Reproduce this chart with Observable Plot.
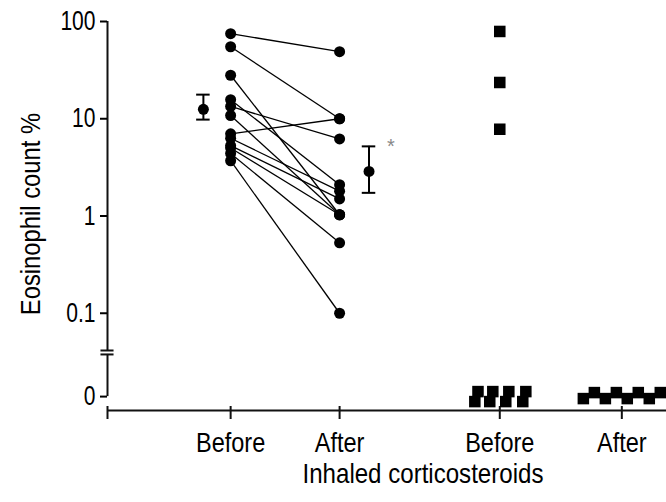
<!DOCTYPE html>
<html><head><meta charset="utf-8">
<script src="https://cdn.jsdelivr.net/npm/d3@7"></script>
<script src="https://cdn.jsdelivr.net/npm/@observablehq/plot@0.6"></script>
<style>
body{margin:0;background:#fff}
#chart svg{display:block}
</style>
</head><body><div id="chart"></div>
<script>
// ---- data ----
const xLabels = ["Before", "After", "Before", "After"];
const xPos = [1.13, 2.13, 3.6, 4.72];           // category positions on the x axis
const xTitle = "Inhaled corticosteroids";
const yTitle = "Eosinophil count %";

// paired patients (group 1), eosinophil %
const pairedBefore = [75, 55, 28, 15.7, 13.4, 10.8, 7.0, 6.3, 5.3, 4.4, 3.7, 5.0];
const pairedAfter  = [49, 10, 1.03, 2.1, 6.2, 1.03, 10, 1.8, 1.5, 0.53, 0.1, 1.03];

// group 1 summary (mean with error bars)
const meanValue  = [12.5, 2.87];
const meanLow    = [9.8, 1.73];
const meanHigh   = [17.7, 5.2];
const meanOffset = [-0.25, 0.27];
const starText = "*";

// group 2
const group2Before = [79, 23.6, 7.8];
// zero values, drawn spread side by side (x offset from category), upper/lower rows
const zeroBeforeUpper = [-0.20, -0.064, 0.083, 0.239];
const zeroBeforeLower = [-0.229, -0.092, 0.055, 0.211];
const zeroAfterUpper  = [-0.252, -0.05, 0.151, 0.353];
const zeroAfterLower  = [-0.353, -0.151, 0.05, 0.252];

// y axis ticks (broken log axis; 0 drawn below the break)
const yTickValues = [0, 0.1, 1, 10, 100];
const yTickLabels = ["0", "0.1", "1", "10", "100"];
const ZERO_AT = 0.0139;           // where 0 sits on the broken axis
const BREAK = [0.0377, 0.0414];   // axis break

const FONT = "'Liberation Sans',Arial,sans-serif";
const toY = v => v === 0 ? ZERO_AT : v;
const yLabelMap = new Map(yTickValues.map((v, i) => [toY(v), yTickLabels[i]]));
const xLabelMap = new Map(xPos.map((p, i) => [p, xLabels[i]]));

const pairs = pairedBefore.map((b, i) => ({b, a: pairedAfter[i]}));
const means = meanValue.map((m, i) => ({x: xPos[i] + meanOffset[i], m, lo: meanLow[i], hi: meanHigh[i]}));
const capHalf = 0.062;
const black = "#000";

const chart = Plot.plot({
  width: 666, height: 502,
  marginLeft: 107, marginRight: 0, marginTop: 21, marginBottom: 92,
  x: {type: "linear", domain: [0, 5.13]},
  y: {type: "log", domain: [0.01, 100]},
  style: {fontFamily: FONT, fontSize: "28px", color: "#000", background: "#fff"},
  marks: [
    // y axis line with break
    Plot.ruleX([0], {y1: ZERO_AT, y2: BREAK[0], strokeWidth: 2, stroke: "#111"}),
    Plot.ruleX([0], {y1: BREAK[1], y2: 100, strokeWidth: 2, stroke: "#111"}),
    Plot.ruleY(BREAK, {x1: -0.06, x2: 0.06, strokeWidth: 2, stroke: "#111"}),
    Plot.axisY(yTickValues.map(toY), {tickFormat: d => yLabelMap.get(d), tickSize: 7, tickPadding: 5, strokeWidth: 2, fontSize: 27, label: null}),
    // x axis line and ticks
    Plot.ruleY([0.01], {strokeWidth: 2, stroke: "#111"}),
    Plot.ruleX([0, ...xPos], {y1: 0.01, y2: 0.01, insetTop: -4, insetBottom: -9, strokeWidth: 2, stroke: "#111"}),
    Plot.axisX(xPos, {tickFormat: d => xLabelMap.get(d), tickSize: 0, tickPadding: 22, label: null}),
    // titles
    Plot.text([yTitle], {text: d => d, frameAnchor: "left", textAnchor: "middle", rotate: -90, dx: -76, dy: -2}),
    Plot.text([xTitle], {text: d => d, x: d3.mean(xPos), frameAnchor: "bottom", lineAnchor: "top", dy: 53}),
    // paired lines and points
    Plot.link(pairs, {x1: xPos[0], x2: xPos[1], y1: "b", y2: "a", stroke: black, strokeWidth: 1.3}),
    Plot.dot(pairs, {x: xPos[0], y: "b", r: 5.5, fill: black}),
    Plot.dot(pairs, {x: xPos[1], y: "a", r: 5.5, fill: black}),
    // means with error bars
    Plot.ruleX(means, {x: "x", y1: "lo", y2: "hi", strokeWidth: 2, stroke: black}),
    Plot.ruleY(means, {y: "lo", x1: d => d.x - capHalf, x2: d => d.x + capHalf, strokeWidth: 2, stroke: black}),
    Plot.ruleY(means, {y: "hi", x1: d => d.x - capHalf, x2: d => d.x + capHalf, strokeWidth: 2, stroke: black}),
    Plot.dot(means, {x: "x", y: "m", r: 5.5, fill: black}),
    Plot.text([starText], {text: d => d, x: means[1].x + 0.2, y: meanHigh[1], fill: "#888", fontSize: 20, lineAnchor: "middle"}),
    // group 2
    Plot.dot(group2Before, {x: xPos[2], y: d => d, symbol: "square", r: 6.5, fill: black}),
    Plot.dot(zeroBeforeUpper, {x: d => xPos[2] + d, y: () => ZERO_AT, dy: -5, symbol: "square", r: 6.5, fill: black}),
    Plot.dot(zeroBeforeLower, {x: d => xPos[2] + d, y: () => ZERO_AT, dy: 5, symbol: "square", r: 6.5, fill: black}),
    Plot.dot(zeroAfterUpper, {x: d => xPos[3] + d, y: () => ZERO_AT, dy: -4, symbol: "square", r: 6.5, fill: black}),
    Plot.dot(zeroAfterLower, {x: d => xPos[3] + d, y: () => ZERO_AT, dy: 2, symbol: "square", r: 6.5, fill: black})
  ]
});
document.getElementById("chart").append(chart);

// condensed look of the original typeface: squeeze glyphs horizontally
const squeezeBy = new Map([[yTitle, 0.85], [xTitle, 0.86], ...xLabels.map(l => [l, 0.84]), ...yTickLabels.map(l => [l, 0.78])]);
chart.querySelectorAll("text").forEach(t => {
  const f = squeezeBy.get(t.textContent);
  if (!f) return;
  const w = t.getComputedTextLength();
  t.setAttribute("textLength", (w * f).toFixed(1));
  t.setAttribute("lengthAdjust", "spacingAndGlyphs");
});
</script>
</body></html>
